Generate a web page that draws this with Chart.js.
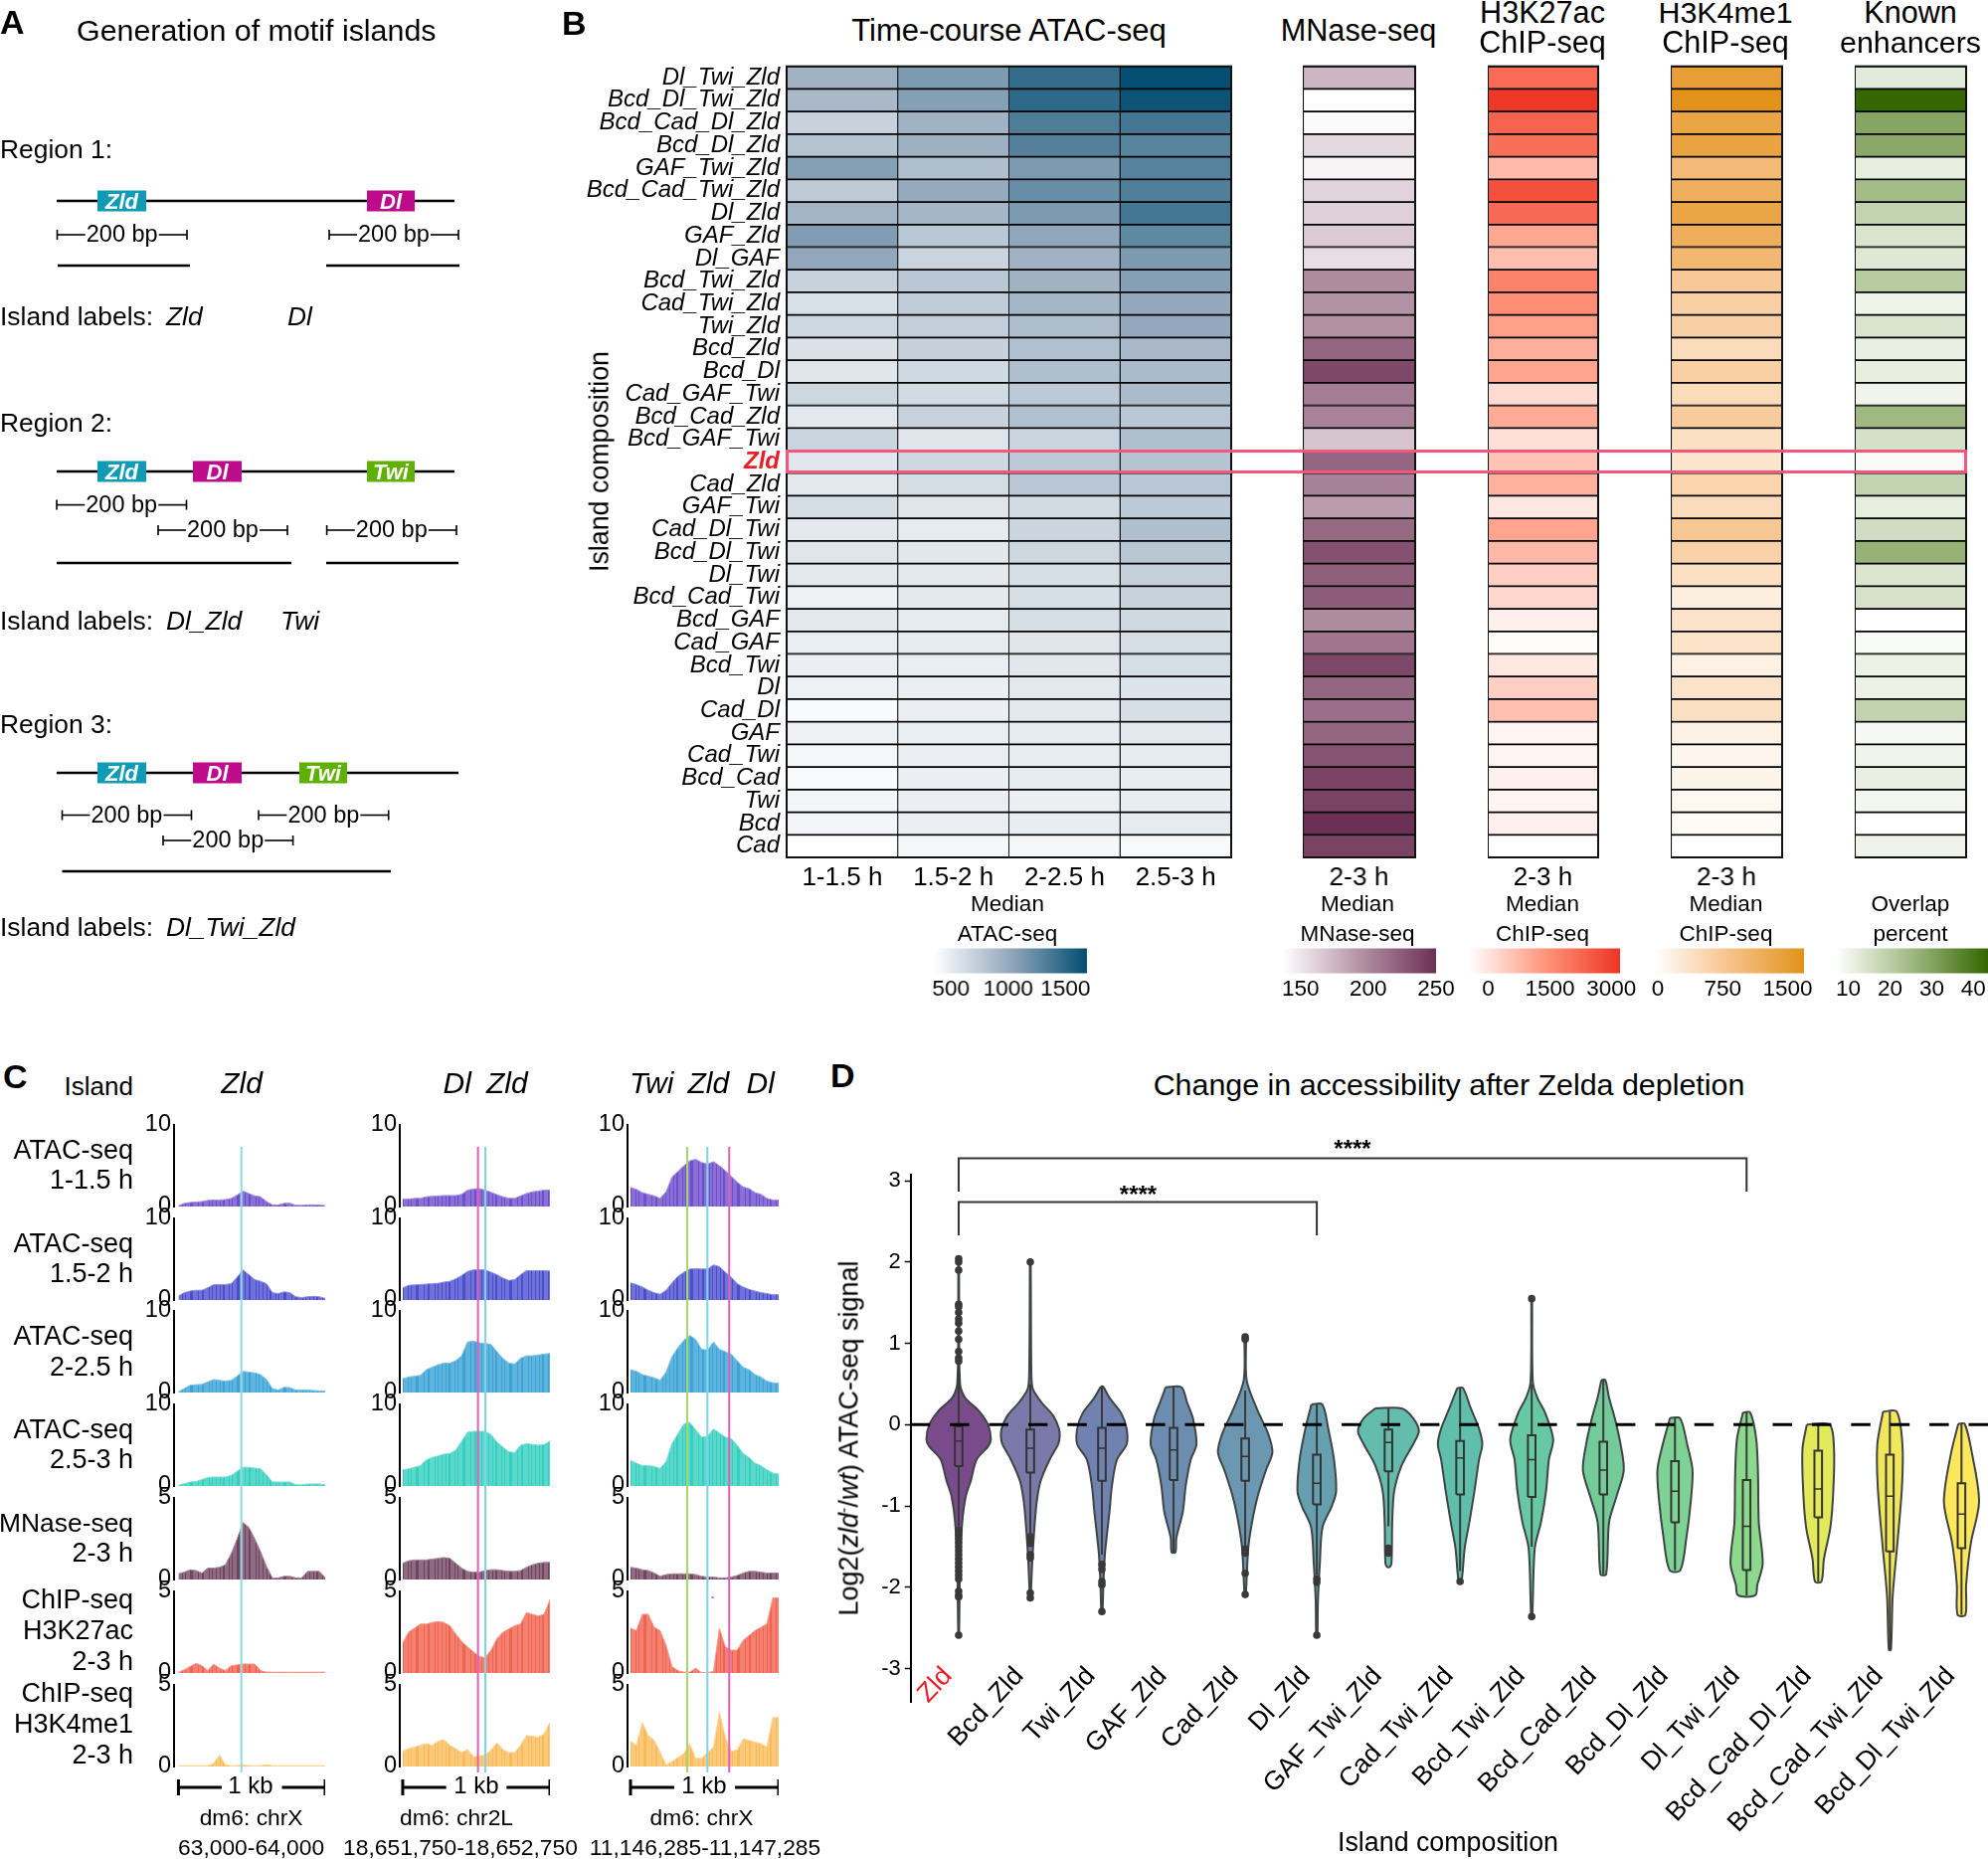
<!DOCTYPE html>
<html>
<head>
<meta charset="utf-8">
<title>Motif islands</title>
<script src="https://cdn.jsdelivr.net/npm/chart.js"></script>
<style>
html, body { margin: 0; padding: 0; background: #fff; }
body { position: relative; width: 1999px; height: 1869px; overflow: hidden; font-family: "Liberation Sans", Arial, sans-serif; color: #000; }
canvas { position: absolute; }
.t { position: absolute; white-space: nowrap; line-height: 1; }
.t sup { font-size: .6em; line-height: 0; vertical-align: .55em; }
</style>
</head>
<body>
<script>
// ---------- panel B data ----------
const islands = ['Dl_Twi_Zld','Bcd_Dl_Twi_Zld','Bcd_Cad_Dl_Zld','Bcd_Dl_Zld','GAF_Twi_Zld','Bcd_Cad_Twi_Zld','Dl_Zld','GAF_Zld','Dl_GAF','Bcd_Twi_Zld','Cad_Twi_Zld','Twi_Zld','Bcd_Zld','Bcd_Dl','Cad_GAF_Twi','Bcd_Cad_Zld','Bcd_GAF_Twi','Zld','Cad_Zld','GAF_Twi','Cad_Dl_Twi','Bcd_Dl_Twi','Dl_Twi','Bcd_Cad_Twi','Bcd_GAF','Cad_GAF','Bcd_Twi','Dl','Cad_Dl','GAF','Cad_Twi','Bcd_Cad','Twi','Bcd','Cad'];
const timeLabels = ['1-1.5 h','1.5-2 h','2-2.5 h','2.5-3 h'];
const atac1 = [940,886,698,806,1087,752,926,1100,1020,698,591,658,578,551,658,524,685,538,518,618,524,551,524,457,518,484,471,457,390,457,417,390,424,424,350];
const atac2 = [1127,1087,940,953,846,1007,913,779,685,779,739,725,712,645,631,698,551,658,618,551,504,538,518,518,504,497,484,471,471,484,471,471,471,471,410];
const atac3 = [1462,1489,1342,1315,1127,1221,1127,1033,940,940,913,859,832,846,765,832,685,765,779,631,672,658,605,605,605,551,538,524,524,504,491,504,477,491,410];
const atac4 = [1690,1650,1382,1288,1301,1328,1382,1261,1127,1087,1020,1020,886,873,873,779,846,806,779,765,846,792,712,698,645,605,605,564,605,524,504,491,491,504,397];
const mnase = [175,137,139,157,143,160,162,164,155,198,194,196,219,236,206,203,168,219,204,189,217,231,223,225,198,210,236,219,214,219,230,239,239,250,239];
const h3k27ac = [2304,3170,2430,2240,1056,2750,2336,1344,992,1920,1728,1440,1216,1376,544,1280,480,896,1184,384,1376,1088,736,608,224,48,352,736,960,160,144,224,144,224,0];
const h3k4me1 = [1443,1640,1328,1361,968,1148,1328,1164,1017,738,656,640,492,656,492,705,426,361,590,476,771,623,426,221,394,385,197,377,426,180,123,156,98,74,0];
const enhancers = [12.5,43.5,29.6,28.9,11.7,24.5,18.3,14.3,13.2,20.9,10.1,14.3,11.2,11.7,9.9,25.3,15,8.1,18.3,11.7,15.8,27.1,13.9,14.7,7,8.3,10.5,10.5,18.7,8.8,9.9,11.2,9.2,7,10.1];

const atacStops = ['#ffffff','#93a8bc','#034e72'];
const mnaseStops = ['#ffffff','#b593a7','#6c3054'];
const k27Stops = ['#ffffff','#ff967d','#ee3524'];
const k4Stops = ['#ffffff','#f7c38c','#e29219'];
const enhStops = ['#ffffff','#a0b982','#356600'];

// ---------- panel C data, sampled every 40 bp over the 1 kb window ----------
const trackPos = [0,40,80,120,160,200,240,280,320,360,400,440,480,520,560,600,640,680,720,760,800,840,880,920,960,1000];
const zldAtac1 = [.1,.4,.5,.55,.6,.75,.8,.8,.85,1,1.4,1.9,1.6,1.3,1.2,.6,.2,.2,.4,.4,.15,.15,.2,.2,.2,.1];
const zldAtac2 = [.5,.9,1.1,1.2,1.2,1.5,1.9,1.9,1.9,2,2.8,3.7,3.1,2.5,2.3,2,.9,.8,1,.9,.4,.3,.4,.45,.4,.2];
const zldAtac3 = [.1,.5,.9,.95,1,1.3,1.6,1.5,1.4,1.5,2,2.6,2.5,2.4,2.2,1.6,.5,.3,.65,.6,.3,.3,.3,.25,.2,.15];
const zldAtac4 = [.1,.3,.5,.55,.8,1.05,1.1,1.1,1.1,1.3,1.8,2.3,2.3,2.2,2.1,1.4,.5,.5,.5,.5,.15,.15,.25,.25,.25,.15];
const zldMnase = [.35,.45,.6,.55,.4,.7,.7,.75,.9,1.6,2.5,3.5,3.2,2.5,1.7,.8,.1,.1,.2,.2,.1,.1,.5,.5,.5,.1];
const zldK27 = [.05,.2,.4,.6,.45,.15,.55,.3,.15,.45,.5,.55,.55,.55,.15,.05,.05,.05,.05,.05,.05,.05,.05,.05,.05,.05];
const zldK4 = [.05,.05,.05,.05,.05,.05,.2,.7,.1,.05,.05,.1,.05,.05,.05,.1,.05,.05,.05,.05,.05,.05,.05,.05,.05,.05];
const dlZldAtac1 = [.9,.9,1,1,1.2,1.25,1.3,1.35,1.35,1.35,1.5,2,2.15,2.2,2,1.75,1.45,1.2,1,1,1.3,1.6,1.8,1.9,2,2];
const dlZldAtac2 = [1.5,1.8,1.85,1.9,1.95,2,2.05,2.2,2.3,2.6,3,3.5,3.7,3.7,3.7,3.4,3.1,2.7,2.4,2.5,3.1,3.6,3.6,3.6,3.6,3.55];
const dlZldAtac3 = [1.7,1.9,2,2.1,2.8,3.1,3.4,3.6,3.6,3.9,4.5,6.2,6.3,6.1,6,5.9,5,4.2,3.6,3.5,4.2,4.5,4.5,4.6,4.7,4.8];
const dlZldAtac4 = [2,2.1,2.3,2.5,3.2,3.5,3.7,3.9,4,4.4,5.5,6.6,6.7,6.7,6.7,6.3,5.4,4.8,4.2,4.1,5,5.2,5.1,5,5.1,5.5];
const dlZldMnase = [1,1.15,1.2,1.2,1.2,1.25,1.3,1.35,1.3,1,.7,.5,.45,.45,.55,.6,.6,.55,.5,.5,.55,.75,.9,1,1.05,1.05];
const dlZldK27 = [1.85,2.5,2.75,3,3,3.1,3.15,3.1,2.9,2.4,1.95,1.6,1.3,1,.95,1.4,2.1,2.5,2.7,2.9,3,3.7,3.6,3.5,3.6,4.5];
const dlZldK4 = [.95,1.1,1.2,1.3,1.4,1.3,1.55,1.65,1.3,1.1,.85,1.05,.6,.65,.7,1,1.45,1.05,.85,.85,1.3,1.9,1.85,1.8,2,2.7];
const triAtac1 = [2.35,2.1,1.7,1.5,1.3,1,1.8,3.6,4.3,5,5.6,5.8,5.4,5.2,5.5,5,4.4,3.7,3,2.4,2.2,1.7,1.5,1,.8,.8];
const triAtac2 = [2.1,1.9,1.6,1.2,.9,.7,1.2,2.1,2.9,3.4,3.8,3.85,3.8,3.8,4.3,4.1,3.4,2.8,2,1.6,1.3,1.1,.9,.8,.65,.65];
const triAtac3 = [2.8,2.6,2.2,2,1.8,1.5,2.5,4.4,5.5,6.4,7,6.5,5.3,5.2,6.2,5.3,5,4.7,3.9,3.1,2.8,2.2,1.9,1.4,1.2,1.15];
const triAtac4 = [3.15,2.8,2.5,2.5,2.4,2.15,3,5.2,6.4,7.6,7.8,6.9,6,6.1,7,6.5,6,5.8,5,4,3.5,2.8,2.5,2,1.6,1.45];
const triMnase = [.75,.7,.6,.55,.4,.2,.3,.35,.35,.35,.35,.3,.2,.15,.15,.1,.1,.15,.25,.4,.5,.5,.45,.4,.4,.4];
const triK27 = [2.75,2.6,3.6,3.6,2.8,2.6,1.7,.4,.15,.05,.05,.3,.02,.02,.1,2.75,1.6,1.4,1.4,2,2.3,2.6,2.8,3,4.6,4.6];
const triK4 = [1.55,1.3,2.7,1.9,1.6,.9,.1,.3,.55,.8,1.4,.5,.5,.85,1.2,3.35,1.8,.95,1,1.7,1.6,1.5,1.4,1.2,3,3];
const motifsZld = [429];
const motifsDlZld = [511,561];
const motifsTri = [383,519,666];

// ---------- panel D data: [log2 ratio, half width] ----------
const violinNames = ['Zld','Bcd_Zld','Twi_Zld','GAF_Zld','Cad_Zld','Dl_Zld','GAF_Twi_Zld','Cad_Twi_Zld','Bcd_Twi_Zld','Bcd_Cad_Zld','Bcd_Dl_Zld','Dl_Twi_Zld','Bcd_Cad_Dl_Zld','Bcd_Cad_Twi_Zld','Bcd_Dl_Twi_Zld'];
const vZld = [[2.05,.005],[.8,.008],[.6,.015],[.46,.027],[.33,.09],[.17,.28],[0,.41],[-.18,.45],[-.27,.41],[-.43,.25],[-.69,.17],[-.88,.1],[-1.2,.05],[-1.7,.02],[-2.6,.005]];
const vBcdZld = [[2,.005],[.6,.016],[.43,.04],[.27,.16],[.11,.32],[-.05,.4],[-.15,.41],[-.24,.39],[-.43,.27],[-.69,.145],[-.95,.09],[-1.33,.053],[-1.7,.027],[-2.13,.005]];
const vTwiZld = [[.47,.016],[.33,.106],[.14,.27],[-.05,.345],[-.24,.345],[-.43,.21],[-.75,.14],[-1.07,.106],[-1.58,.043],[-1.97,.02],[-2.3,.008]];
const vGafZld = [[.46,.11],[.27,.19],[.08,.27],[-.24,.32],[-.43,.24],[-.75,.17],[-1.07,.13],[-1.39,.04],[-1.57,.027]];
const vCadZld = [[1.07,.01],[.55,.02],[.2,.16],[-.11,.32],[-.34,.38],[-.56,.29],[-.88,.175],[-1.2,.096],[-1.52,.043],[-2.1,.008]];
const vDlZld = [[.25,.075],[-.05,.16],[-.43,.24],[-.82,.27],[-1,.21],[-1.26,.08],[-1.7,.043],[-2.16,.016],[-2.6,.008]];
const vGafTwiZld = [[.2,.185],[.08,.345],[-.08,.425],[-.24,.345],[-.5,.185],[-.82,.08],[-1.2,.053],[-1.7,.043],[-1.75,.02]];
const vCadTwiZld = [[.45,.04],[.2,.15],[-.05,.265],[-.24,.31],[-.43,.265],[-.82,.2],[-1.2,.13],[-1.52,.064],[-1.93,.02]];
const vBcdTwiZld = [[1.55,.005],[.52,.016],[.33,.08],[.14,.19],[-.18,.3],[-.43,.24],[-.82,.2],[-1.2,.13],[-1.52,.043],[-2.36,.008]];
const vBcdCadZld = [[.55,.027],[.33,.08],[.08,.16],[-.24,.24],[-.56,.285],[-.88,.185],[-1.2,.08],[-1.84,.04]];
const vBcdDlZld = [[.08,.07],[-.24,.17],[-.56,.245],[-.95,.22],[-1.39,.16],[-1.79,.075]];
const vDlTwiZld = [[.15,.05],[-.18,.135],[-.63,.16],[-1.2,.17],[-1.71,.225],[-1.97,.15],[-2.1,.12]];
const vBcdCadDlZld = [[0,.16],[-.3,.22],[-.82,.21],[-1.26,.17],[-1.65,.08],[-1.93,.045]];
const vBcdCadTwiZld = [[.16,.095],[-.24,.175],[-.75,.17],[-1.46,.105],[-2.1,.04],[-2.77,.015]];
const vBcdDlTwiZld = [[.01,.045],[-.37,.15],[-.95,.245],[-1.46,.13],[-1.97,.065],[-2.34,.055]];
const violins = [vZld,vBcdZld,vTwiZld,vGafZld,vCadZld,vDlZld,vGafTwiZld,vCadTwiZld,vBcdTwiZld,vBcdCadZld,vBcdDlZld,vDlTwiZld,vBcdCadDlZld,vBcdCadTwiZld,vBcdDlTwiZld];
const violinColors = ['#7a4b8a','#7a79aa','#7282b0','#6d8db0','#6c97b0','#66a0b0','#64bcac','#5fbfaa','#66c8a5','#74cb9a','#7ed295','#8cd88c','#e2ea5b','#f0e85a','#fde75a'];
const boxQ3 = [-.02,-.06,-.04,-.04,-.17,-.37,-.06,-.2,-.13,-.21,-.45,-.68,-.32,-.37,-.72];
const boxMed = [-.2,-.29,-.29,-.31,-.39,-.72,-.22,-.41,-.43,-.56,-.82,-1.25,-.79,-.88,-1.1];
const boxQ1 = [-.51,-.59,-.69,-.68,-.69,-.98,-.575,-.86,-.89,-.86,-1.2,-1.79,-1.14,-1.56,-1.52];
const whiskHi = [.75,.5,.47,.46,.42,.25,.2,.45,.5,.55,.08,.15,0,.16,.01];
const whiskLo = [-1.25,-1.35,-1.6,-1.57,-1.5,-1.85,-1.25,-1.8,-1.5,-1.84,-1.79,-2.1,-1.93,-2.77,-2.34];
const outliers = [
  [2.04,2,1.9,1.48,1.45,1.38,1.3,1.25,1.15,1.05,.9,.82,.78,-1.3,-1.35,-1.4,-1.45,-1.5,-1.55,-1.6,-1.65,-1.7,-1.75,-1.8,-1.85,-1.9,-2.05,-2.1,-2.12,-2.59],
  [2,-1.38,-1.42,-1.46,-1.6,-1.64,-2.07,-2.13],
  [-1.72,-1.78,-1.93,-1.97,-2.3],
  [],
  [1.08,1.05,-1.53,-1.58,-1.83,-2.09],
  [-1.9,-1.94,-2.59],
  [-1.52,-1.58],
  [-1.93],
  [1.55,-2.36],
  [],[],[],[],[],[]
];
const yTicksD = [-3,-2,-1,0,1,2,3];

// ---------- panel A schematic, in units of the panel ----------
const backbones = [[57,202,457,202],[57,474,457,474],[57,777,461,777]];
const islandBars = [[58,267,191,267],[328,267,462,267],[57,566,293,566],[328,566,461,566],[62.5,876,393,876]];
const spans200 = [[57.5,188,236],[331,461,236],[57,187.5,507.6],[159,289,533],[328.6,459,533],[62.5,192.5,819.5],[260,390.7,819.5],[164,294.6,845]];
const motifBoxes = [
  ['Zld',98,147,202,'#0f9ab5'],['Dl',369,417,202,'#bd0b8b'],
  ['Zld',98,147,474,'#0f9ab5'],['Dl',194,243,474,'#bd0b8b'],['Twi',369,417,474,'#5fb000'],
  ['Zld',98,147,777,'#0f9ab5'],['Dl',194,243,777,'#bd0b8b'],['Twi',301,349,777,'#5fb000']
];

// ---------- helpers ----------
Chart.defaults.animation = false;
Chart.defaults.responsive = false;
Chart.defaults.devicePixelRatio = 1;
Chart.defaults.font.family = '"Liberation Sans", Arial, sans-serif';
Chart.defaults.color = '#000';
Chart.defaults.plugins.legend.display = false;
Chart.defaults.plugins.tooltip.enabled = false;
Chart.defaults.layout.autoPadding = false;

function addChart(left, top, width, height, config) {
  var c = document.createElement('canvas');
  c.width = width; c.height = height;
  c.style.left = left + 'px'; c.style.top = top + 'px';
  c.style.width = width + 'px'; c.style.height = height + 'px';
  document.body.appendChild(c);
  return new Chart(c, config);
}

function txt(s, x, y, size, o) {
  o = o || {};
  var d = document.createElement('div');
  d.className = 't';
  d.innerHTML = s;
  d.style.left = x + 'px'; d.style.top = y + 'px';
  d.style.fontSize = size + 'px';
  if (o.italic) d.style.fontStyle = 'italic';
  if (o.bold) d.style.fontWeight = 'bold';
  if (o.color) d.style.color = o.color;
  var tx = o.align === 'c' ? '-50%' : (o.align === 'r' ? '-100%' : '0');
  d.style.transform = 'translate(' + tx + ',-50%)' + (o.rotate ? ' rotate(' + o.rotate + 'deg)' : '');
  document.body.appendChild(d);
}

function hex(h) { return [parseInt(h.substr(1,2),16), parseInt(h.substr(3,2),16), parseInt(h.substr(5,2),16)]; }

function cmap(stops, t) {
  t = Math.max(0, Math.min(1, t));
  var a = t < .5 ? hex(stops[0]) : hex(stops[1]);
  var b = t < .5 ? hex(stops[1]) : hex(stops[2]);
  var f = t < .5 ? t * 2 : (t - .5) * 2;
  return 'rgb(' + [0,1,2].map(function(i){ return Math.round(a[i] + (b[i]-a[i])*f); }).join(',') + ')';
}

var framePlugin = {
  id: 'frame',
  afterDatasetsDraw: function(chart) {
    var a = chart.chartArea, ctx = chart.ctx;
    ctx.save(); ctx.strokeStyle = '#111'; ctx.lineWidth = 2;
    ctx.strokeRect(a.left, a.top, a.right - a.left, a.bottom - a.top);
    ctx.restore();
  }
};

// a heatmap is floating horizontal bars, one dataset per column
function heatmap(plotLeft, plotWidth, columns, stops, lo, hi, xLabels, showRows) {
  var gutter = showRows ? 215 : 0;
  addChart(plotLeft - gutter, 56, plotWidth + gutter + 3, 849, {
    type: 'bar',
    data: {
      labels: islands,
      datasets: columns.map(function(vals, i) {
        return {
          data: islands.map(function(){ return [i, i + 1]; }),
          backgroundColor: vals.map(function(v){ return cmap(stops, (v - lo) / (hi - lo)); }),
          borderColor: '#000',
          borderWidth: {top: 1.2, bottom: 1.2, left: .85, right: .85},
          borderSkipped: false,
          grouped: false,
          barPercentage: 1,
          categoryPercentage: 1
        };
      })
    },
    options: {
      indexAxis: 'y',
      layout: {padding: {top: 10.7, right: 3}},
      scales: {
        x: {
          type: 'linear', min: 0, max: columns.length,
          grid: {display: false, drawTicks: false}, border: {display: false},
          afterBuildTicks: function(s) { s.ticks = columns.map(function(c, i){ return {value: i + .5}; }); },
          afterFit: function(s) { s.height = 43; },
          ticks: {
            display: xLabels.length > 0, autoSkip: false, maxRotation: 0, padding: 5,
            font: {size: 26},
            callback: function(v) { return xLabels[Math.floor(v)]; }
          }
        },
        y: {
          display: showRows,
          grid: {display: false, drawTicks: false}, border: {display: false},
          afterFit: function(s) { s.width = gutter; s.paddingTop = 0; s.paddingBottom = 0; },
          ticks: {
            autoSkip: false, padding: 7,
            color: function(c) { return islands[c.index] === 'Zld' ? '#ed1c24' : '#000'; },
            font: function(c) { return {size: 24, style: 'italic', weight: islands[c.index] === 'Zld' ? 'bold' : 'normal'}; }
          }
        }
      }
    },
    plugins: [framePlugin]
  });
}

function colorbar(barLeft, barRight, lo, hi, stops, ticks) {
  addChart(barLeft - 24, 945, barRight - barLeft + 48, 72, {
    type: 'bar',
    data: {
      labels: [''],
      datasets: [{
        data: [[lo, hi]],
        barPercentage: 1, categoryPercentage: 1,
        backgroundColor: function(c) {
          var a = c.chart.chartArea;
          if (!a) return '#fff';
          var g = c.chart.ctx.createLinearGradient(a.left, 0, a.right, 0);
          g.addColorStop(0, stops[0]); g.addColorStop(.5, stops[1]); g.addColorStop(1, stops[2]);
          return g;
        }
      }]
    },
    options: {
      indexAxis: 'y',
      layout: {padding: {top: 8.4, left: 24, right: 24}},
      scales: {
        x: {
          type: 'linear', min: lo, max: hi,
          grid: {display: false, drawTicks: false}, border: {display: false},
          afterBuildTicks: function(s) { s.ticks = ticks.map(function(v){ return {value: v}; }); },
          afterFit: function(s) { s.height = 38.4; s.paddingLeft = 0; s.paddingRight = 0; },
          ticks: {autoSkip: false, maxRotation: 0, padding: 2.5, font: {size: 22.5}, callback: function(v){ return String(v); }}
        },
        y: {display: false}
      }
    }
  });
}

// striped fill, so a track looks like the dense bars of a genome browser
function stripes(base, dark) {
  var p = document.createElement('canvas');
  p.width = 47; p.height = 4;
  var g = p.getContext('2d');
  g.fillStyle = base; g.fillRect(0, 0, 47, 4);
  g.fillStyle = dark;
  [2, 5, 6, 11, 14, 19, 20, 21, 27, 31, 32, 38, 41, 45].forEach(function(x){ g.fillRect(x, 0, 1, 4); });
  return g.createPattern(p, 'repeat');
}

function track(axisX, plotRight, xMin, top, vals, yMax, base, dark, edge) {
  var H = 82;
  addChart(axisX - 50, top - 16, plotRight - axisX + 54, H + 32, {
    type: 'line',
    data: {datasets: [{
      data: trackPos.map(function(x, i){ return {x: x, y: vals[i]}; }),
      pointRadius: 0, borderWidth: 1, borderColor: edge, tension: 0,
      fill: 'origin', backgroundColor: stripes(base, dark)
    }]},
    options: {
      layout: {padding: {top: 16, bottom: 16, right: 4}},
      scales: {
        x: {type: 'linear', display: false, min: xMin, max: 1000},
        y: {
          min: 0, max: yMax,
          grid: {display: false, drawTicks: false},
          border: {color: '#000', width: 2},
          afterBuildTicks: function(s) { s.ticks = [{value: 0}, {value: yMax}]; },
          afterFit: function(s) { s.width = 50; s.paddingTop = 0; s.paddingBottom = 0; },
          ticks: {padding: 3, font: {size: 23.5}, autoSkip: false}
        }
      }
    }
  });
}

// line datasets through a hidden pair of scales, for schematic strokes
function strokes(segments, width, color, order, dash) {
  return segments.map(function(s) {
    return {
      data: [{x: s[0], y: s[1]}, {x: s[2], y: s[3]}],
      borderColor: s[4] || color, borderWidth: width, pointRadius: 0, fill: false,
      borderCapStyle: 'butt', order: order, borderDash: dash || []
    };
  });
}

// ---------- panel A ----------
var spanLines = [];
spans200.forEach(function(s) {
  var mid = (s[0] + s[1]) / 2;
  spanLines.push([s[0], s[2], mid - 37, s[2]], [mid + 37, s[2], s[1], s[2]]);
});
var spanEnds = [];
spans200.forEach(function(s) {
  spanEnds.push([s[0], s[2] - 5, s[0], s[2] + 5], [s[1], s[2] - 5, s[1], s[2] + 5]);
});
var motifSegs = motifBoxes.map(function(m){ return [m[1], m[3], m[2], m[3], m[4]]; });
addChart(0, 0, 560, 960, {
  type: 'line',
  data: {datasets: [].concat(
    strokes(motifSegs, 21, '#000', 1),
    strokes(backbones, 2.5, '#000', 2),
    strokes(islandBars, 2.5, '#000', 2),
    strokes(spanLines, 1.6, '#000', 2),
    strokes(spanEnds, 1.6, '#000', 2)
  )},
  options: {
    scales: {
      x: {type: 'linear', display: false, min: 0, max: 560},
      y: {type: 'linear', display: false, min: 0, max: 960, reverse: true}
    }
  }
});
motifBoxes.forEach(function(m) {
  txt(m[0], (m[1] + m[2]) / 2, m[3] + 1, 22, {align: 'c', italic: true, bold: true, color: '#fff'});
});
spans200.forEach(function(s) { txt('200 bp', (s[0] + s[1]) / 2, s[2], 23.5, {align: 'c'}); });
txt('A', 0, 22, 34, {bold: true});
txt('Generation of motif islands', 77, 30, 30.4);
txt('Region 1:', 0, 150, 26.4);
txt('Region 2:', 0, 425, 26.4);
txt('Region 3:', 0, 728, 26.4);
txt('Island labels:', 0, 318, 26.4);
txt('Zld', 167, 318, 26.4, {italic: true});
txt('Dl', 289, 318, 26.4, {italic: true});
txt('Island labels:', 0, 624, 26.4);
txt('Dl_Zld', 167, 624, 26.4, {italic: true});
txt('Twi', 282, 624, 26.4, {italic: true});
txt('Island labels:', 0, 932, 26.4);
txt('Dl_Twi_Zld', 167, 932, 26.4, {italic: true});

// ---------- panel B ----------
heatmap(791, 447, [atac1, atac2, atac3, atac4], atacStops, 350, 1690, timeLabels, true);
heatmap(1310.3, 112.5, [mnase], mnaseStops, 137, 250, ['2-3 h'], false);
heatmap(1495.8, 111.6, [h3k27ac], k27Stops, 0, 3200, ['2-3 h'], false);
heatmap(1680.4, 111.5, [h3k4me1], k4Stops, 0, 1640, ['2-3 h'], false);
heatmap(1865, 112, [enhancers], enhStops, 7, 43.5, [], false);

colorbar(939, 1092.6, 352, 1688, atacStops, [500, 1000, 1500]);
colorbar(1290, 1444, 137, 250, mnaseStops, [150, 200, 250]);
colorbar(1477.4, 1629.4, -475, 3211, k27Stops, [0, 1500, 3000]);
colorbar(1663, 1814, -46, 1690, k4Stops, [0, 750, 1500]);
colorbar(1845.6, 1999, 7, 43.5, enhStops, [10, 20, 30, 40]);

txt('B', 565, 23, 34, {bold: true});
txt('Time-course ATAC-seq', 1014.5, 30, 31, {align: 'c'});
txt('MNase-seq', 1366, 30, 30.6, {align: 'c'});
txt('H3K27ac', 1551, 12, 30.6, {align: 'c'});
txt('ChIP-seq', 1551, 42, 30.6, {align: 'c'});
txt('H3K4me1', 1735, 12, 30.4, {align: 'c'});
txt('ChIP-seq', 1735, 42, 30.6, {align: 'c'});
txt('Known', 1921, 12, 30.6, {align: 'c'});
txt('enhancers', 1921, 42, 30.4, {align: 'c'});
txt('Island composition', 603, 464, 26.8, {align: 'c', rotate: -90});
[['Median','ATAC-seq',1013],['Median','MNase-seq',1365],['Median','ChIP-seq',1551],['Median','ChIP-seq',1735.5],['Overlap','percent',1921]].forEach(function(l) {
  txt(l[0], l[2], 909, 22.5, {align: 'c'});
  txt(l[1], l[2], 939, 22.5, {align: 'c'});
});
var hilite = document.createElement('div');
hilite.style.cssText = 'position:absolute;left:790px;top:451.5px;width:1181.5px;height:18px;border:3px solid #f4577c;';
document.body.appendChild(hilite);

// ---------- panel C ----------
var rowTops = [1131, 1224.7, 1318, 1412.3, 1506, 1600, 1694];
var rowMax = [10, 10, 10, 10, 5, 5, 5];
var rowStyle = [
  ['#8a70d6','#6d4fcb','#a58fe0'],
  ['#6f72d8','#4a4ecb','#8d90e2'],
  ['#5fb4de','#3da3d6','#7cc3e5'],
  ['#5cd8cb','#33cfc0','#7fe0d6'],
  ['#8f6a80','#6d4560','#a88c9d'],
  ['#f5806f','#ec6553','#f79b8e'],
  ['#fbc97a','#f8bb5c','#fcd698']
];
var columnsC = [
  {axis: 175, right: 327, min: -30, rows: [zldAtac1,zldAtac2,zldAtac3,zldAtac4,zldMnase,zldK27,zldK4], motifs: motifsZld, colors: ['#8fd8e5'], speck: []},
  {axis: 402, right: 553, min: -20, rows: [dlZldAtac1,dlZldAtac2,dlZldAtac3,dlZldAtac4,dlZldMnase,dlZldK27,dlZldK4], motifs: motifsDlZld, colors: ['#e05fb8','#7fd3e6'], speck: []},
  {axis: 631, right: 783, min: -20, rows: [triAtac1,triAtac2,triAtac3,triAtac4,triMnase,triK27,triK4], motifs: motifsTri, colors: ['#a5d66a','#7fd3e6','#e05fb8'], speck: [[547,1606,562,1606,'#e020e0']]}
];
columnsC.forEach(function(col) {
  col.rows.forEach(function(vals, r) {
    track(col.axis, col.right, col.min, rowTops[r], vals, rowMax[r], rowStyle[r][0], rowStyle[r][1], rowStyle[r][2]);
  });
  // motif guides and the 1 kb scale bar share the track's bp axis
  var guides = col.motifs.map(function(m, i){ return [m, 1153, m, 1782, col.colors[i]]; });
  addChart(col.axis, 1140, col.right - col.axis, 680, {
    type: 'line',
    data: {datasets: [].concat(
      strokes(guides, 2, '#000', 1),
      strokes(col.speck, 1.5, '#000', 1),
      strokes([[0,1797,295,1797],[705,1797,1000,1797]], 3, '#000', 1),
      strokes([[0,1789,0,1805],[1000,1789,1000,1805]], 3, '#000', 1)
    )},
    options: {
      scales: {
        x: {type: 'linear', display: false, min: col.min, max: 1000},
        y: {type: 'linear', display: false, min: 1140, max: 1820, reverse: true}
      }
    }
  });
});
txt('C', 3, 1082, 34, {bold: true});
txt('Island', 134, 1092, 26, {align: 'r'});
txt('Zld', 243, 1089, 30, {align: 'c', italic: true});
txt('Dl', 445.6, 1089, 30, {italic: true});
txt('Zld', 489, 1089, 30, {italic: true});
txt('Twi', 633, 1089, 30, {italic: true});
txt('Zld', 691.4, 1089, 30, {italic: true});
txt('Dl', 750.5, 1089, 30, {italic: true});
['1-1.5 h','1.5-2 h','2-2.5 h','2.5-3 h'].forEach(function(h, i) {
  txt('ATAC-seq', 134, 1155.7 + i * 93.8, 27, {align: 'r'});
  txt(h, 134, 1186 + i * 93.8, 27, {align: 'r'});
});
txt('MNase-seq', 134, 1531, 26.4, {align: 'r'});
txt('2-3 h', 134, 1561, 27, {align: 'r'});
txt('ChIP-seq', 134, 1608, 27, {align: 'r'});
txt('H3K27ac', 134, 1639, 27, {align: 'r'});
txt('2-3 h', 134, 1670, 27, {align: 'r'});
txt('ChIP-seq', 134, 1702, 27, {align: 'r'});
txt('H3K4me1', 134, 1733, 27, {align: 'r'});
txt('2-3 h', 134, 1764, 27, {align: 'r'});
txt('1 kb', 252, 1795, 24, {align: 'c'});
txt('1 kb', 479, 1795, 24, {align: 'c'});
txt('1 kb', 708, 1795, 24, {align: 'c'});
txt('dm6: chrX', 252.6, 1827, 22.8, {align: 'c'});
txt('63,000-64,000', 252.6, 1857, 22.8, {align: 'c'});
txt('dm6: chr2L', 459, 1827, 22.8, {align: 'c'});
txt('18,651,750-18,652,750', 463, 1857, 22.8, {align: 'c'});
txt('dm6: chrX', 705.5, 1827, 22.8, {align: 'c'});
txt('11,146,285-11,147,285', 709, 1857, 22.8, {align: 'c'});

// ---------- panel D ----------
var boxHalf = .053;
var dsD = [];
violins.forEach(function(v, i) {
  var left = v.map(function(p){ return {x: i - p[1], y: p[0]}; });
  var right = v.map(function(p){ return {x: i + p[1], y: p[0]}; }).reverse();
  var poly = left.concat(right);
  poly.push(poly[0]);
  dsD.push({
    data: poly, borderColor: '#3f4444', borderWidth: 2, pointRadius: 0,
    tension: .3, capBezierPoints: false, fill: 'shape', backgroundColor: violinColors[i], order: 6
  });
  dsD.push({
    data: [{x: i, y: whiskHi[i]}, {x: i, y: whiskLo[i]}],
    borderColor: '#3a3a3a', borderWidth: 2, pointRadius: 0, fill: false, order: 5
  });
  dsD.push({
    data: [{x: i - boxHalf, y: boxQ1[i]}, {x: i + boxHalf, y: boxQ1[i]}, {x: i + boxHalf, y: boxQ3[i]}, {x: i - boxHalf, y: boxQ3[i]}, {x: i - boxHalf, y: boxQ1[i]}],
    borderColor: '#333', borderWidth: 2, pointRadius: 0, fill: 'shape', backgroundColor: violinColors[i], order: 4
  });
  dsD.push({
    data: [{x: i - boxHalf, y: boxMed[i]}, {x: i + boxHalf, y: boxMed[i]}],
    borderColor: '#333', borderWidth: 1.5, pointRadius: 0, fill: false, order: 3
  });
  if (outliers[i].length) {
    dsD.push({
      data: outliers[i].map(function(y){ return {x: i, y: y}; }),
      showLine: false, pointRadius: 3.8, pointBackgroundColor: '#3a3a3a', pointBorderWidth: 0, order: 2
    });
  }
});
dsD.push({
  data: [{x: -.67, y: 0}, {x: 14.37, y: 0}],
  borderColor: '#000', borderWidth: 3, borderDash: [19.5, 19.9], pointRadius: 0, fill: false, order: 1
});
[[0, 5, 2.74, 2.33], [0, 11, 3.276, 2.867]].forEach(function(b) {
  dsD.push({
    data: [{x: b[0], y: b[3]}, {x: b[0], y: b[2]}, {x: b[1], y: b[2]}, {x: b[1], y: b[3]}],
    borderColor: '#333', borderWidth: 2, pointRadius: 0, fill: false, clip: false, order: 1
  });
});
addChart(860, 1130, 1139, 739, {
  type: 'line',
  data: {datasets: dsD},
  options: {
    layout: {padding: {top: 50.6, bottom: 158}},
    scales: {
      x: {
        type: 'linear', min: -.67, max: 14.37,
        ticks: {display: false},
        grid: {display: false, drawTicks: false}, border: {display: false},
        afterFit: function(s) { s.height = 0; }
      },
      y: {
        min: -3.41, max: 3.08,
        grid: {drawOnChartArea: false, tickLength: 6, color: '#000', tickWidth: 1.5},
        border: {color: '#000', width: 2},
        afterBuildTicks: function(s) { s.ticks = yTicksD.map(function(v){ return {value: v}; }); },
        afterFit: function(s) { s.width = 55.7; s.paddingTop = 0; s.paddingBottom = 0; },
        ticks: {padding: 4, font: {size: 22}, autoSkip: false}
      }
    }
  }
});
// the rotated category labels start above the end of the y axis, and a scale clips
// its labels to its own box, so they sit on a second chart with the same x scale,
// nudged left because the labels end short of their violin
addChart(849, 1660, 1139, 209, {
  type: 'line',
  data: {datasets: []},
  options: {
    layout: {padding: {left: 55.7, top: 1}},
    scales: {
      x: {
        type: 'linear', min: -.67, max: 14.37,
        grid: {display: false, drawTicks: false}, border: {display: false},
        afterBuildTicks: function(s) { s.ticks = violinNames.map(function(n, i){ return {value: i}; }); },
        afterFit: function(s) { s.height = 207; s.paddingLeft = 0; s.paddingRight = 0; },
        ticks: {
          autoSkip: false, minRotation: 47, maxRotation: 47, padding: 8, font: {size: 26.5},
          color: function(c) { return c.index === 0 ? '#ed1c24' : '#000'; },
          callback: function(v) { return violinNames[v]; }
        }
      },
      y: {display: false}
    }
  }
});
txt('D', 835, 1081, 34, {bold: true});
txt('Change in accessibility after Zelda depletion', 1457, 1090, 30.4, {align: 'c'});
txt('Log2(<i>zld</i><sup>-</sup>/<i>wt</i>) ATAC-seq signal', 854, 1446, 27, {align: 'c', rotate: -90});
txt('Island composition', 1456, 1852, 26.8, {align: 'c'});
txt('****', 1144.5, 1201, 24, {align: 'c', bold: true});
txt('****', 1360, 1155, 24, {align: 'c', bold: true});
</script>
</body>
</html>
